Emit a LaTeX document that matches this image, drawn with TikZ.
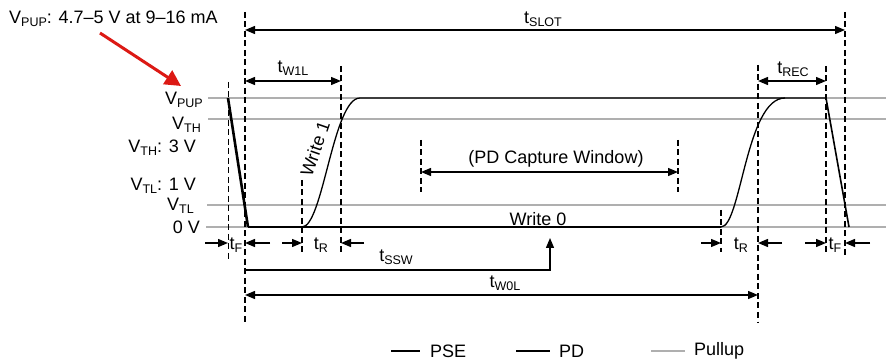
\documentclass[tikz,border=0pt]{standalone}
\usepackage{fontspec}
\setmainfont{Liberation Sans}
\usetikzlibrary{arrows.meta}
\newcommand{\sbs}[1]{\raisebox{-0.35ex}{\fontsize{12.5}{13}\selectfont #1}}
\definecolor{pullgray}{RGB}{175,175,175}
\definecolor{arrred}{RGB}{220,25,20}
\begin{document}
\begin{tikzpicture}[x=1pt,y=-1pt,
  every node/.style={font=\fontsize{18}{20}\selectfont, inner sep=0pt},
  pullup/.style={draw=pullgray, line width=1.5pt},
  guide/.style={line width=1.2pt, dash pattern=on 6pt off 3.5pt},
  thinguide/.style={line width=1pt, dash pattern=on 6pt off 3.5pt},
  pse/.style={line width=2.6pt},
  pd/.style={line width=1.3pt},
  dimarrow/.style={line width=1.3pt, -{Triangle[length=10pt,width=8pt]}},
  dimboth/.style={line width=1.3pt, {Triangle[length=10pt,width=8pt]}-{Triangle[length=10pt,width=8pt]}},
  lbl/.style={anchor=east}
]
\useasboundingbox (0,0) rectangle (886,363);

% pullup reference lines
\coordinate (pupA) at (208,98);  \coordinate (pupB) at (886,98);
\coordinate (vthA) at (208,119); \coordinate (vthB) at (886,119);
\coordinate (vtlA) at (207,205); \coordinate (vtlB) at (886,205);
\coordinate (zA)   at (206,227); \coordinate (zB)   at (886,227);
\draw[pullup] (pupA) -- (pupB);
\draw[pullup] (vthA) -- (vthB);
\draw[pullup] (vtlA) -- (vtlB);
\draw[pullup] (zA) -- (zB);

% level labels
\node[lbl] (lpup) at (203,100) {V\sbs{PUP}};
\node[lbl] (lvth) at (201,125) {V\sbs{TH}};
\node[lbl] (lvth3) at (196,148) {V\sbs{TH}: 3 V};
\node[lbl] (lvtl1) at (196,186) {V\sbs{TL}: 1 V};
\node[lbl] (lvtl) at (194,206) {V\sbs{TL}};
\node[lbl] (l0v) at (200,227) {0 V};

% top note and red arrow
\node[anchor=west] (note) at (9,19) {V\sbs{PUP}: 4.7–5 V at 9–16 mA};
\coordinate (redS) at (100,33);
\coordinate (redE) at (181,86);
\draw[arrred, line width=3pt, -{Triangle[length=16pt,width=16pt]}] (redS) -- (redE);

% dashed guides
\coordinate (g1t) at (228,82);  \coordinate (g1b) at (228,262);
\coordinate (g2t) at (245,12);  \coordinate (g2b) at (245,322);
\coordinate (g3t) at (302,180); \coordinate (g3b) at (302,253);
\coordinate (g4t) at (341,66);  \coordinate (g4b) at (341,253);
\coordinate (g5t) at (421,140); \coordinate (g5b) at (421,192);
\coordinate (g6t) at (678,140); \coordinate (g6b) at (678,192);
\coordinate (g7t) at (721,210); \coordinate (g7b) at (721,252);
\coordinate (g8t) at (758,65);  \coordinate (g8b) at (758,322);
\coordinate (g9t) at (826,66);  \coordinate (g9b) at (826,252);
\coordinate (g10t) at (845,12); \coordinate (g10b) at (845,257);
\draw[thinguide] (g1t) -- (g1b);
\draw[guide] (g2t) -- (g2b);
\draw[guide] (g3t) -- (g3b);
\draw[guide] (g4t) -- (g4b);
\draw[guide] (g5t) -- (g5b);
\draw[guide] (g6t) -- (g6b);
\draw[guide] (g7t) -- (g7b);
\draw[guide] (g8t) -- (g8b);
\draw[guide] (g9t) -- (g9b);
\draw[guide] (g10t) -- (g10b);

% signals
\coordinate (pseTop) at (228,98);
\coordinate (pseBot) at (248,227);
\coordinate (w1s) at (302,227);
\coordinate (w1e) at (360,98);
\coordinate (r2s) at (721,227);
\coordinate (r2e) at (785,98);
\coordinate (topEnd) at (826,98);
\coordinate (fallEnd) at (849,227);
\draw[pse] (pseTop) -- (pseBot);
\draw[pd] (pseBot) -- (r2s);
\draw[pd] (w1s) .. controls (323,227) and (333,98) .. (w1e) -- (topEnd);
\draw[pd] (r2s) .. controls (741,227) and (746,98) .. (r2e);
\draw[line width=1.6pt] (topEnd) -- (fallEnd);

\node[rotate=71] (w1lbl) at (315,149) {Write 1};
\node (w0lbl) at (538,219) {Write 0};

% top dimension arrows
\coordinate (slotA) at (245,30); \coordinate (slotB) at (845,30);
\draw[dimboth] (slotA) -- (slotB);
\node (tslot) at (543,19) {t\sbs{SLOT}};
\coordinate (w1lA) at (245,81); \coordinate (w1lB) at (341,81);
\draw[dimboth] (w1lA) -- (w1lB);
\node (tw1l) at (293,68) {t\sbs{W1L}};
\coordinate (recA) at (758,81); \coordinate (recB) at (826,81);
\draw[dimboth] (recA) -- (recB);
\node (trec) at (793,69) {t\sbs{REC}};
\coordinate (capA) at (421,172); \coordinate (capB) at (678,172);
\draw[dimboth] (capA) -- (capB);
\node (cap) at (556,159) {(PD Capture Window)};

% small edge-time arrows
\coordinate (f1a) at (205,243); \coordinate (f1b) at (228,243);
\coordinate (f1c) at (270,243); \coordinate (f1d) at (245,243);
\draw[dimarrow] (f1a) -- (f1b);
\draw[dimarrow] (f1c) -- (f1d);
\node (tf1) at (236,245) {t\sbs{F}};
\coordinate (r1a) at (282,243); \coordinate (r1b) at (302,243);
\coordinate (r1c) at (364,243); \coordinate (r1d) at (341,243);
\draw[dimarrow] (r1a) -- (r1b);
\draw[dimarrow] (r1c) -- (r1d);
\node (tr1) at (321,245) {t\sbs{R}};
\coordinate (r2a) at (701,243); \coordinate (r2b) at (721,243);
\coordinate (r2c) at (782,243); \coordinate (r2d) at (758,243);
\draw[dimarrow] (r2a) -- (r2b);
\draw[dimarrow] (r2c) -- (r2d);
\node (tr2) at (741,245) {t\sbs{R}};
\coordinate (f2a) at (805,243); \coordinate (f2b) at (826,243);
\coordinate (f2c) at (870,243); \coordinate (f2d) at (845,243);
\draw[dimarrow] (f2a) -- (f2b);
\draw[dimarrow] (f2c) -- (f2d);
\node (tf2) at (835,245) {t\sbs{F}};

% tSSW
\coordinate (sswA) at (245,270);
\coordinate (sswC) at (550,270);
\coordinate (sswE) at (550,238);
\draw[dimarrow] (sswA) -- (sswC) -- (sswE);
\node (tssw) at (396,257) {t\sbs{SSW}};

% tW0L
\coordinate (w0A) at (245,295); \coordinate (w0B) at (758,295);
\draw[dimboth] (w0A) -- (w0B);
\node (tw0l) at (505,283) {t\sbs{W0L}};

% legend
\coordinate (lg1a) at (391,351); \coordinate (lg1b) at (420,351);
\draw[pse] (lg1a) -- (lg1b);
\node[anchor=west] (lg1t) at (430,351) {PSE};
\coordinate (lg2a) at (516,351); \coordinate (lg2b) at (550,351);
\draw[pd] (lg2a) -- (lg2b);
\node[anchor=west] (lg2t) at (559,351) {PD};
\coordinate (lg3a) at (651,351); \coordinate (lg3b) at (685,351);
\draw[pullup] (lg3a) -- (lg3b);
\node[anchor=west] (lg3t) at (694,351) {Pullup};
\end{tikzpicture}
\end{document}
